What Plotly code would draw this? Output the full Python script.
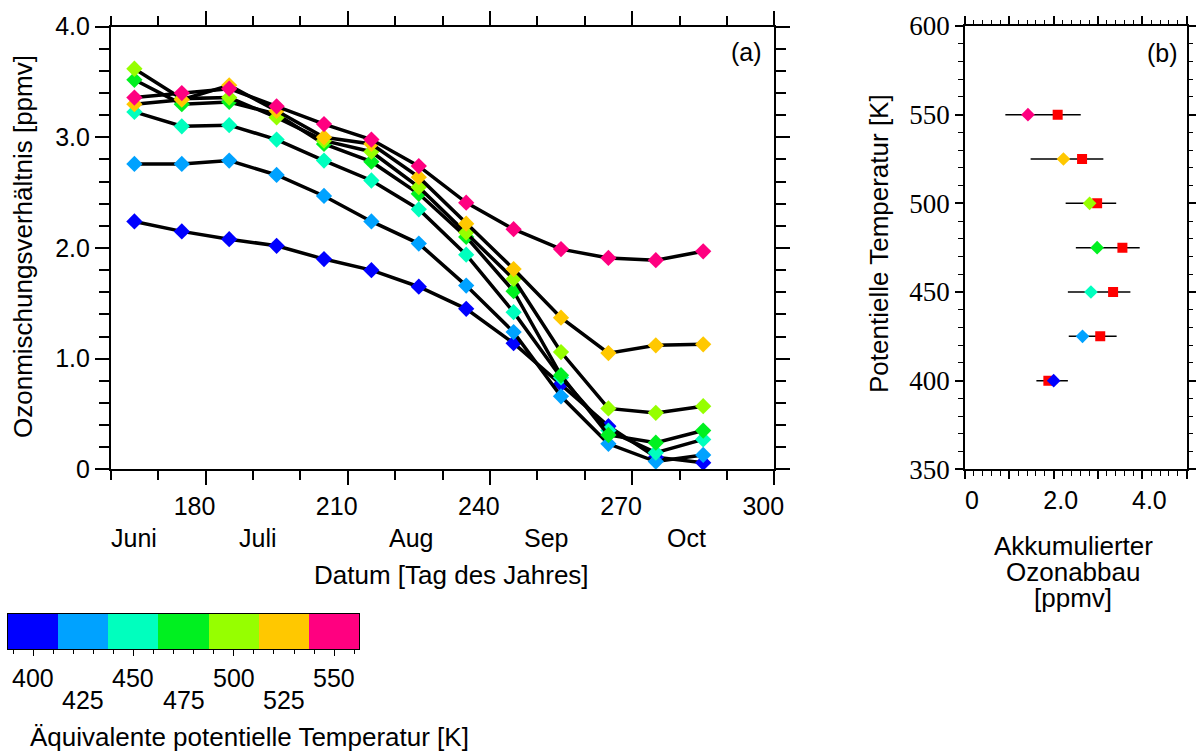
import plotly.graph_objects as go

# ---------------- data ----------------
days = [165, 175, 185, 195, 205, 215, 225, 235, 245, 255, 265, 275, 285]
levels = [400, 425, 450, 475, 500, 525, 550]
level_colors = ["#0000FF", "#00A2FF", "#00FFBE", "#00F020", "#96FF00", "#FFC800", "#FF0080"]

o3_400 = [2.24, 2.15, 2.08, 2.02, 1.90, 1.80, 1.65, 1.45, 1.14, 0.77, 0.39, 0.11, 0.06]
o3_425 = [2.76, 2.76, 2.79, 2.66, 2.47, 2.24, 2.04, 1.66, 1.24, 0.66, 0.23, 0.07, 0.13]
o3_450 = [3.23, 3.10, 3.11, 2.98, 2.79, 2.61, 2.35, 1.94, 1.42, 0.83, 0.35, 0.15, 0.27]
o3_475 = [3.52, 3.30, 3.32, 3.21, 2.94, 2.78, 2.49, 2.10, 1.61, 0.85, 0.31, 0.24, 0.35]
o3_500 = [3.62, 3.35, 3.36, 3.18, 2.97, 2.87, 2.55, 2.14, 1.72, 1.06, 0.55, 0.51, 0.57]
o3_525 = [3.30, 3.34, 3.47, 3.24, 3.00, 2.94, 2.64, 2.22, 1.81, 1.37, 1.05, 1.12, 1.13]
o3_550 = [3.36, 3.40, 3.44, 3.28, 3.12, 2.98, 2.74, 2.41, 2.17, 1.99, 1.91, 1.89, 1.97]
series_a = [o3_400, o3_425, o3_450, o3_475, o3_500, o3_525, o3_550]

x_ticks_a = [180, 210, 240, 270, 300]
y_ticks_a = [0, 1, 2, 3, 4]
y_ticktext_a = ["0", "1.0", "2.0", "3.0", "4.0"]
month_labels = ["Juni", "Juli", "Aug", "Sep", "Oct"]
month_days = [164.9, 191.0, 223.4, 251.9, 281.5]

# panel (b)
theta_b = [550, 525, 500, 475, 450, 425, 400]
loss_diamond = [1.42, 2.22, 2.81, 2.98, 2.84, 2.65, 2.00]
loss_square = [2.09, 2.64, 2.98, 3.55, 3.34, 3.05, 1.88]
bar_lo = [0.91, 1.48, 2.27, 2.50, 2.32, 2.34, 1.61]
bar_hi = [2.61, 3.12, 3.41, 3.94, 3.73, 3.42, 2.32]
x_ticks_b = [0, 1, 2, 3, 4, 5]
x_ticktext_b = ["0", "", "2.0", "", "4.0", ""]
y_ticks_b = [350, 400, 450, 500, 550, 600]

# colour bar
cb_labels = ["400", "425", "450", "475", "500", "525", "550"]

W, H = 1196, 752
def px(x):
    return x / W
def py(y):
    return 1 - y / H

FONT = "Liberation Sans"
fig = go.Figure()

# ---- panel (a) ----
for vals, col in zip(series_a, level_colors):
    fig.add_trace(go.Scatter(
        x=days, y=vals, mode="lines+markers",
        line=dict(color="black", width=3.5),
        marker=dict(symbol="diamond", size=12.5, color=col, line=dict(width=0)),
        xaxis="x", yaxis="y", showlegend=False, cliponaxis=False, hoverinfo="skip"))

# ---- panel (b) ----
err_plus = [h - s for h, s in zip(bar_hi, loss_square)]
err_minus = [s - l for s, l in zip(loss_square, bar_lo)]
fig.add_trace(go.Scatter(
    x=loss_square, y=theta_b, mode="markers",
    marker=dict(symbol="square", size=10, color="#FF0000", line=dict(width=0)),
    error_x=dict(type="data", array=err_plus, arrayminus=err_minus,
                 color="black", thickness=1.5, width=0),
    xaxis="x2", yaxis="y2", showlegend=False, hoverinfo="skip"))
diamond_cols = [level_colors[levels.index(t)] for t in theta_b]
fig.add_trace(go.Scatter(
    x=loss_diamond, y=theta_b, mode="markers",
    marker=dict(symbol="diamond", size=10.5, color=diamond_cols, line=dict(width=0)),
    xaxis="x2", yaxis="y2", showlegend=False, hoverinfo="skip"))

# ---- colour bar ----
n = len(levels)
cscale = []
for i, c in enumerate(level_colors):
    cscale.append([i / n, c])
    cscale.append([(i + 1) / n, c])
fig.add_trace(go.Heatmap(
    z=[list(range(n))], x=levels, y=[0], colorscale=cscale,
    zmin=-0.5, zmax=n - 0.5, showscale=False,
    xaxis="x3", yaxis="y3", hoverinfo="skip"))

axis_common = dict(showline=True, linecolor="black", linewidth=1.5, mirror="allticks",
                   showgrid=False, zeroline=False, ticks="outside", tickcolor="black",
                   tickwidth=1.5, automargin=False)

ya_top, ya_bot = 26.7, 469.3
fig.update_layout(
    width=W, height=H,
    margin=dict(l=0, r=0, t=0, b=0, autoexpand=False),
    paper_bgcolor="white", plot_bgcolor="white",
    font=dict(family=FONT, size=25, color="black"),
    xaxis=dict(axis_common, domain=[px(110.7), px(774.3)], range=[160, 300],
               tickvals=x_ticks_a, ticklen=14, ticklabelshift=-11,
               minor=dict(ticks="outside", ticklen=9, tickwidth=1.5, tickcolor="black",
                          dtick=10, tick0=160, showgrid=False),
               anchor="y"),
    yaxis=dict(axis_common, domain=[py(ya_bot), py(ya_top)], range=[0, 4],
               tickvals=y_ticks_a, ticktext=y_ticktext_a, ticklen=14,
               minor=dict(ticks="outside", ticklen=10, tickwidth=1.5, tickcolor="black",
                          dtick=0.2, tick0=0, showgrid=False),
               anchor="x"),
    xaxis2=dict(axis_common, domain=[px(965), px(1186.7)], range=[0, 5],
                tickvals=x_ticks_b, ticktext=x_ticktext_b, ticklen=8, ticklabelshift=7,
                minor=dict(ticks="outside", ticklen=4.5, tickwidth=1.2, tickcolor="black",
                           dtick=0.2, tick0=0, showgrid=False),
                anchor="y2"),
    yaxis2=dict(axis_common, domain=[py(469.3), py(26)], range=[350, 600],
                tickvals=y_ticks_b, ticklen=8,
                tickfont=dict(family="Liberation Serif", size=27),
                minor=dict(ticks="outside", ticklen=5, tickwidth=1.2, tickcolor="black",
                           dtick=10, tick0=350, showgrid=False),
                anchor="x2"),
    xaxis3=dict(showline=True, linecolor="black", linewidth=1.2, mirror=True,
                showgrid=False, zeroline=False, domain=[px(8), px(359.3)],
                range=[387.5, 562.5], tickvals=[400, 450, 500, 550], ticks="outside",
                ticklen=6, tickwidth=1.2, tickcolor="black", showticklabels=False,
                minor=dict(ticks="outside", ticklen=3.5, tickwidth=1.2, tickcolor="black",
                           dtick=10, tick0=400, showgrid=False),
                anchor="y3", automargin=False),
    yaxis3=dict(showline=True, linecolor="black", linewidth=1.2, mirror=True,
                showgrid=False, zeroline=False, domain=[py(649.3), py(614)],
                range=[-0.5, 0.5], showticklabels=False, ticks="", anchor="x3",
                automargin=False),
)

ann = []
# month labels
for lab, d in zip(month_labels, month_days):
    ann.append(dict(text=lab, x=d, xref="x", y=py(538), yref="paper",
                    showarrow=False, xanchor="center", yanchor="middle",
                    font=dict(size=25)))
# axis titles
ann.append(dict(text="Datum [Tag des Jahres]", x=px(451), y=py(575), xref="paper", yref="paper",
                showarrow=False, xanchor="center", yanchor="middle", font=dict(size=26)))
ann.append(dict(text="Ozonmischungsverhältnis [ppmv]", x=px(23), y=py(247), xref="paper",
                yref="paper", showarrow=False, textangle=-90, xanchor="center",
                yanchor="middle", font=dict(size=26)))
ann.append(dict(text="Potentielle Temperatur [K]", x=px(879), y=py(244), xref="paper",
                yref="paper", showarrow=False, textangle=-90, xanchor="center",
                yanchor="middle", font=dict(size=26)))
for txt, yy in zip(["Akkumulierter", "Ozonabbau", "[ppmv]"], [546, 572, 598]):
    ann.append(dict(text=txt, x=px(1073), y=py(yy), xref="paper", yref="paper",
                    showarrow=False, xanchor="center", yanchor="middle", font=dict(size=26)))
# panel labels
ann.append(dict(text="(a)", x=px(746), y=py(51.5), xref="paper", yref="paper",
                showarrow=False, xanchor="center", yanchor="middle", font=dict(size=25)))
ann.append(dict(text="(b)", x=px(1162.5), y=py(53), xref="paper", yref="paper",
                showarrow=False, xanchor="center", yanchor="middle", font=dict(size=25)))
# colour bar labels (staggered)
for i, (lab, lv) in enumerate(zip(cb_labels, levels)):
    ann.append(dict(text=lab, x=lv, xref="x3", y=py(678 if i % 2 == 0 else 700),
                    yref="paper", showarrow=False, xanchor="center", yanchor="middle",
                    font=dict(size=25)))
ann.append(dict(text="Äquivalente potentielle Temperatur [K]", x=px(28), y=py(736.7),
                xref="paper", yref="paper", showarrow=False, xanchor="left",
                yanchor="middle", font=dict(size=26)))
fig.update_layout(annotations=ann)

fig.write_html("out.html", config={"displayModeBar": False},
               post_script="document.body.style.margin='0px';document.body.style.overflow='hidden';")
